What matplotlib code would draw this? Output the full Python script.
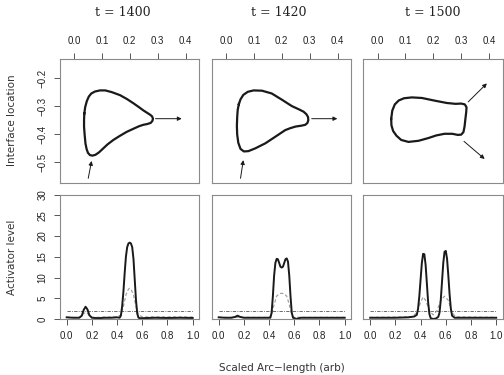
import matplotlib
matplotlib.use("Agg")
import matplotlib.pyplot as plt

# ---- data ----
titles = ["t = 1400", "t = 1420", "t = 1500"]

# interface outlines (x, y), clockwise from the left side
shape1_x = [0.037, 0.040, 0.046, 0.053, 0.062, 0.075, 0.093, 0.112, 0.135, 0.165, 0.190, 0.213, 0.233, 0.248,
            0.262, 0.273, 0.280, 0.283, 0.281, 0.275, 0.263, 0.248, 0.233, 0.213, 0.189, 0.165, 0.141,
            0.120, 0.105, 0.090, 0.077, 0.066, 0.057, 0.050, 0.045, 0.041, 0.038, 0.036, 0.036]
shape1_y = [-0.325, -0.303, -0.281, -0.265, -0.254, -0.247, -0.243, -0.243, -0.249, -0.260, -0.274, -0.289, -0.303, -0.314,
            -0.323, -0.330, -0.336, -0.344, -0.352, -0.359, -0.363, -0.366, -0.371, -0.380, -0.391, -0.405, -0.420,
            -0.436, -0.450, -0.464, -0.473, -0.476, -0.474, -0.466, -0.452, -0.432, -0.400, -0.373, -0.348]

shape2_x = [0.046, 0.052, 0.062, 0.078, 0.099, 0.129, 0.164, 0.200, 0.236, 0.262, 0.278, 0.288, 0.294, 0.295,
            0.292, 0.284, 0.270, 0.250, 0.230, 0.212, 0.176, 0.141, 0.105, 0.080, 0.064, 0.052, 0.044,
            0.040, 0.039, 0.040, 0.042]
shape2_y = [-0.292, -0.275, -0.259, -0.248, -0.243, -0.244, -0.254, -0.276, -0.299, -0.311, -0.319, -0.328, -0.338, -0.349,
            -0.359, -0.366, -0.369, -0.372, -0.378, -0.385, -0.409, -0.432, -0.450, -0.460, -0.461, -0.452, -0.430,
            -0.400, -0.370, -0.340, -0.312]

shape3_x = [0.049, 0.053, 0.062, 0.076, 0.095, 0.123, 0.159, 0.207, 0.249, 0.280, 0.300, 0.313, 0.319, 0.318,
            0.315, 0.312, 0.308, 0.300, 0.288, 0.268, 0.240, 0.210, 0.183, 0.147, 0.111, 0.085, 0.068,
            0.056, 0.050]
shape3_y = [-0.345, -0.315, -0.293, -0.279, -0.271, -0.268, -0.270, -0.280, -0.288, -0.291, -0.290, -0.293, -0.303, -0.320,
            -0.345, -0.372, -0.392, -0.401, -0.402, -0.398, -0.398, -0.404, -0.413, -0.423, -0.427, -0.420, -0.405,
            -0.388, -0.368]

# arrows: (x0, y0, x1, y1)
arrows1 = [(0.292, -0.344, 0.386, -0.344), (0.051, -0.557, 0.063, -0.495)]
arrows2 = [(0.307, -0.344, 0.399, -0.344), (0.052, -0.557, 0.062, -0.492)]
arrows3 = [(0.325, -0.284, 0.392, -0.218), (0.310, -0.425, 0.384, -0.488)]

# activator profiles
act1_x = [0.00, 0.05, 0.10, 0.12, 0.135, 0.15, 0.165, 0.18, 0.20, 0.25, 0.30, 0.35, 0.40, 0.42, 0.43, 0.44, 0.45,
          0.46, 0.47, 0.48, 0.49, 0.50, 0.51, 0.52, 0.53, 0.54, 0.55, 0.56, 0.57, 0.58, 0.60, 0.70, 0.80, 0.90, 1.00]
act1_y = [0.4, 0.3, 0.3, 0.8, 2.2, 2.95, 2.3, 0.9, 0.3, 0.2, 0.3, 0.3, 0.4, 0.3, 0.8, 3.0, 6.5,
          11.0, 15.0, 17.3, 18.2, 18.4, 18.2, 17.3, 14.5, 9.5, 4.5, 1.3, 0.3, 0.2, 0.2, 0.3, 0.25, 0.3, 0.25]
inh1_x = [0.00, 0.10, 0.13, 0.15, 0.17, 0.20, 0.40, 0.43, 0.45, 0.47, 0.49, 0.50, 0.51, 0.53, 0.55, 0.57, 0.60, 1.00]
inh1_y = [0.4, 0.4, 1.2, 1.6, 1.2, 0.4, 0.5, 1.0, 3.0, 5.8, 7.2, 7.4, 7.2, 5.8, 3.0, 1.0, 0.5, 0.5]

act2_x = [0.00, 0.05, 0.10, 0.13, 0.15, 0.17, 0.20, 0.30, 0.40, 0.41, 0.42, 0.43, 0.44, 0.45, 0.46, 0.47, 0.48,
          0.49, 0.50, 0.51, 0.52, 0.53, 0.54, 0.55, 0.56, 0.57, 0.58, 0.59, 0.62, 0.65, 0.80, 1.00]
act2_y = [0.4, 0.3, 0.3, 0.5, 0.8, 0.5, 0.3, 0.3, 0.3, 0.3, 1.5, 5.5, 10.5, 13.5, 14.5, 14.4, 13.5,
          12.6, 12.4, 12.6, 13.5, 14.4, 14.6, 13.8, 10.5, 5.5, 1.5, 0.3, 0.0, 0.3, 0.3, 0.3]
inh2_x = [0.00, 0.40, 0.42, 0.44, 0.46, 0.48, 0.50, 0.52, 0.54, 0.56, 0.58, 0.60, 1.00]
inh2_y = [0.4, 0.4, 1.0, 3.5, 5.5, 6.1, 6.2, 6.1, 5.5, 3.5, 1.0, 0.4, 0.4]

act3_x = [0.00, 0.10, 0.20, 0.30, 0.35, 0.37, 0.38, 0.39, 0.40, 0.41, 0.42, 0.43, 0.44, 0.45, 0.46, 0.47, 0.48,
          0.50, 0.52, 0.54, 0.55, 0.56, 0.57, 0.58, 0.59, 0.60, 0.61, 0.62, 0.63, 0.64, 0.65, 0.67, 0.80, 1.00]
act3_y = [0.3, 0.3, 0.3, 0.4, 0.6, 1.0, 2.5, 5.5, 9.5, 13.5, 15.7, 15.6, 13.0, 8.5, 4.0, 1.2, 0.2,
          0.0, 0.1, 0.5, 1.5, 4.5, 9.0, 13.5, 16.2, 16.4, 14.5, 10.5, 6.0, 2.5, 0.8, 0.3, 0.3, 0.3]
inh3_x = [0.00, 0.33, 0.37, 0.40, 0.42, 0.44, 0.47, 0.50, 0.53, 0.56, 0.59, 0.62, 0.65, 0.68, 1.00]
inh3_y = [0.4, 0.5, 1.5, 4.0, 5.3, 4.5, 2.0, 1.0, 2.0, 4.5, 5.5, 4.5, 1.5, 0.5, 0.4]

threshold = 2.0

top_xticks = [0.0, 0.1, 0.2, 0.3, 0.4]
top_yticks = [-0.5, -0.4, -0.3, -0.2]
bot_xticks = [0.0, 0.2, 0.4, 0.6, 0.8, 1.0]
bot_yticks = [0, 5, 10, 15, 20, 25, 30]

shapes = [(shape1_x, shape1_y), (shape2_x, shape2_y), (shape3_x, shape3_y)]
arrows = [arrows1, arrows2, arrows3]
acts = [(act1_x, act1_y), (act2_x, act2_y), (act3_x, act3_y)]
inhs = [(inh1_x, inh1_y), (inh2_x, inh2_y), (inh3_x, inh3_y)]

# ---- figure ----
W, H = 504, 375
fig = plt.figure(figsize=(W / 100, H / 100), dpi=100)

frame_col = "#8a8a8a"


def px_axes(left, top, width, height):
    return fig.add_axes([left / W, 1 - (top + height) / H, width / W, height / H])


def style(ax):
    for s in ax.spines.values():
        s.set_color(frame_col)
        s.set_linewidth(0.8)
    ax.tick_params(length=4, width=0.7, color="#555555", labelsize=7, pad=4.5)
    for lab in ax.get_xticklabels() + ax.get_yticklabels():
        lab.set_fontfamily("Liberation Sans")
        lab.set_color("#222222")


lefts = [59.5, 211.5, 363]
pw = 139.5
title_x = [122.5, 279, 432.5]

for i in range(3):
    # top row: interface outline
    ax = px_axes(lefts[i], 58.5, pw, 124)
    sx, sy = shapes[i]
    ax.plot(sx + [sx[0]], sy + [sy[0]], color="#1a1a1a", lw=1.6, solid_joinstyle="round")
    for x0, y0, x1, y1 in arrows[i]:
        ax.annotate("", xy=(x1, y1), xytext=(x0, y0),
                    arrowprops=dict(arrowstyle="-|>", lw=0.7, color="#1a1a1a",
                                    mutation_scale=6, shrinkA=0, shrinkB=0))
    ax.set_xlim(-0.052, 0.448)
    ax.set_ylim(-0.572, -0.129)
    ax.xaxis.tick_top()
    ax.set_xticks(top_xticks)
    ax.set_xticklabels([f"{v:.1f}" for v in top_xticks])
    ax.set_yticks(top_yticks)
    if i == 0:
        ax.set_yticklabels([f"{v:.1f}".replace("-", "\u2212") for v in top_yticks])
    else:
        ax.tick_params(axis="y", left=False, labelleft=False)
    style(ax)
    ax.tick_params(axis="x", pad=5)
    for lab in ax.get_yticklabels():
        lab.set_rotation(90)
        lab.set_va("center")

    # bottom row: activator profile
    bx = px_axes(lefts[i], 194.5, pw, 124.5)
    ix, iy = inhs[i]
    bx.plot(ix, iy, color="#9a9a9a", lw=0.8, ls=(0, (3, 2)))
    bx.plot([0, 1], [threshold, threshold], color="#555555", lw=0.6, ls=(0, (4, 1.5, 1, 1.5)))
    axx, ayy = acts[i]
    bx.plot(axx, ayy, color="#1a1a1a", lw=1.4)
    bx.set_xlim(-0.057, 1.05)
    bx.set_ylim(0, 30)
    bx.set_xticks(bot_xticks)
    bx.set_xticklabels([f"{v:.1f}" for v in bot_xticks])
    bx.set_yticks(bot_yticks)
    if i == 0:
        bx.set_yticklabels([str(v) for v in bot_yticks])
    else:
        bx.tick_params(axis="y", left=False, labelleft=False)
    style(bx)
    for lab in bx.get_yticklabels():
        lab.set_rotation(90)
        lab.set_va("center")

    fig.text(title_x[i] / W, 1 - 13 / H, titles[i], ha="center", va="center",
             fontsize=9, family="DejaVu Serif", color="#222222")

fig.text(12 / W, 1 - 120 / H, "Interface location", rotation=90, ha="center", va="center",
         fontsize=7.5, family="DejaVu Sans", color="#333333")
fig.text(12 / W, 1 - 257 / H, "Activator level", rotation=90, ha="center", va="center",
         fontsize=7.5, family="DejaVu Sans", color="#333333")
fig.text(281.5 / W, 1 - 368 / H, "Scaled Arc\u2212length (arb)", ha="center", va="center",
         fontsize=7.5, family="DejaVu Sans", color="#333333")

fig.savefig("out.png", dpi=100)
